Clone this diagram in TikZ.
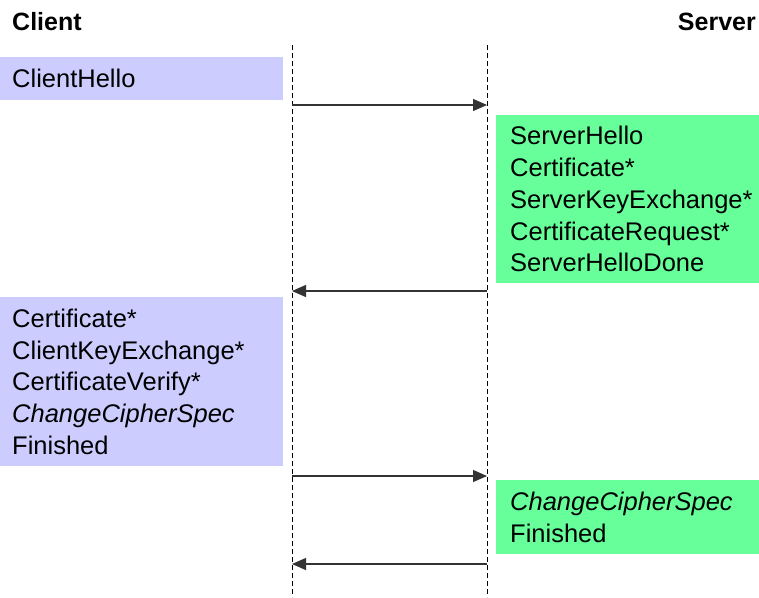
\documentclass[tikz,border=0pt]{standalone}
\usepackage{fontspec}
\setmainfont{Liberation Sans}
\usetikzlibrary{arrows.meta}
\definecolor{clientcol}{RGB}{204,204,255}
\definecolor{servercol}{RGB}{102,255,153}
\tikzset{
  msgbox/.style={rectangle, anchor=north west, align=left, inner ysep=0pt,
    font=\fontsize{25.5}{31.8}\selectfont},
  clientbox/.style={msgbox, fill=clientcol, inner xsep=12pt, text width=259pt},
  serverbox/.style={msgbox, fill=servercol, inner xsep=14pt, text width=235pt},
  lifeline/.style={line width=0.9pt, dash pattern=on 5pt off 3pt},
  msg/.style={line width=1.2pt, black!80, -{Triangle[length=14pt, width=12pt]}}
}
\begin{document}
\begin{tikzpicture}[x=1pt, y=-1pt]
    \useasboundingbox (0,0) rectangle (759,597);
    % headers
    \node (client) at (12,30) [anchor=base west, inner sep=0pt, font=\fontsize{25}{30}\selectfont\bfseries] {Client};
    \node (server) at (756,30) [anchor=base east, inner sep=0pt, font=\fontsize{25}{30}\selectfont\bfseries] {Server};
    % lifelines
    \coordinate (ctop) at (292,45);
    \coordinate (cbot) at (292,597);
    \coordinate (stop) at (487,45);
    \coordinate (sbot) at (487,597);
    \draw[lifeline] (ctop) -- (cbot);
    \draw[lifeline] (stop) -- (sbot);
    % handshake messages
    \node (1) at (0,57) [clientbox, minimum height=43pt] {ClientHello};
    \node (2) at (496,115) [serverbox, minimum height=168pt] {ServerHello\\Certificate*\\ServerKeyExchange*\\CertificateRequest*\\ServerHelloDone};
    \node (3) at (0,297) [clientbox, minimum height=169pt] {Certificate*\\ClientKeyExchange*\\CertificateVerify*\\\textit{ChangeCipherSpec}\\Finished};
    \node (4) at (496,480) [serverbox, minimum height=74pt] {\textit{ChangeCipherSpec}\\Finished};
    % arrow ends on the lifelines
    \coordinate (c1) at (292,105);
    \coordinate (s1) at (487,105);
    \coordinate (c2) at (292,291);
    \coordinate (s2) at (487,291);
    \coordinate (c3) at (292,476);
    \coordinate (s3) at (487,476);
    \coordinate (c4) at (292,564);
    \coordinate (s4) at (487,564);
    \foreach \source/\dest in {c1/s1, s2/c2, c3/s3, s4/c4}
      \draw[msg] (\source) -- (\dest);
\end{tikzpicture}
\end{document}
